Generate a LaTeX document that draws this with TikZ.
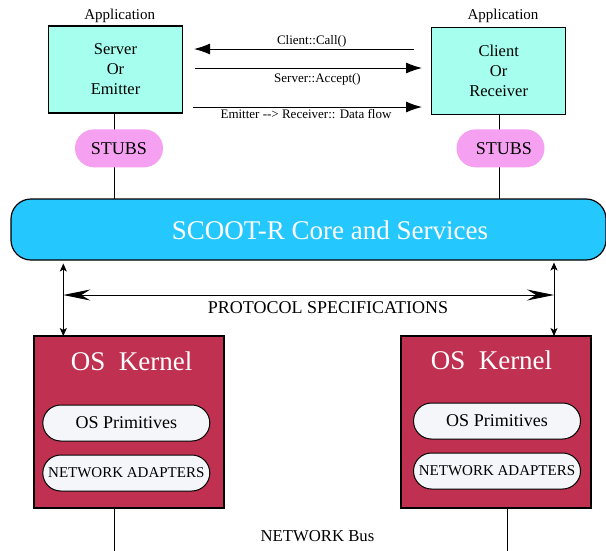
\documentclass[tikz,border=0pt]{standalone}
\usepackage{fontspec}
\setmainfont{Liberation Serif}
\usetikzlibrary{arrows.meta}
\definecolor{appc}{RGB}{166,255,238}
\definecolor{stubc}{RGB}{245,160,240}
\definecolor{corec}{RGB}{36,200,255}
\definecolor{kerc}{RGB}{192,48,80}
\definecolor{pillc}{RGB}{244,246,250}
\tikzset{
  appbox/.style={draw, line width=1.2pt, fill=appc, minimum width=134pt, minimum height=87pt, align=center, inner sep=0pt, font=\fontsize{16.5}{20}\selectfont},
  stubbox/.style={fill=stubc, rounded corners=19pt, minimum width=88pt, minimum height=38pt, inner sep=0pt, font=\fontsize{18}{20}\selectfont},
  corebox/.style={draw, line width=1.2pt, fill=corec, rounded corners=20pt, minimum width=595pt, minimum height=61pt},
  kerbox/.style={draw, line width=1.2pt, fill=kerc, minimum width=190pt, minimum height=172pt},
  pill/.style={draw, line width=1pt, fill=pillc, rounded corners=18pt, minimum width=167pt, minimum height=36pt, inner sep=0pt},
  lbl/.style={anchor=base, font=\fontsize{13}{15}\selectfont},
  bigarr/.style={line width=1pt, -{Latex[length=16pt,width=11pt]}},
  vdbl/.style={line width=0.9pt, {Stealth[length=8pt,width=7pt,inset=2pt]}-{Stealth[length=8pt,width=7pt,inset=2pt]}},
  hdbl/.style={line width=0.9pt, {Stealth[length=27pt,width=11pt,inset=9pt]}-{Stealth[length=27pt,width=11pt,inset=9pt]}},
  link/.style={line width=1pt},
}
\begin{document}
\begin{tikzpicture}[x=1pt,y=-1pt]
\useasboundingbox (0,0) rectangle (606,550);
% application labels
\node[anchor=base, font=\fontsize{15}{17}\selectfont] (appL) at (119.7,19) {Application};
\node[anchor=base, font=\fontsize{15}{17}\selectfont] (appR) at (503,19) {Application};
% links behind
\coordinate (sL1) at (114,113);
\coordinate (sL2) at (114,199);
\coordinate (sR1) at (499,114);
\coordinate (sR2) at (499,199);
\draw[link] (sL1) -- (sL2);
\draw[link] (sR1) -- (sR2);
% app boxes
\node[appbox] (srv) at (115.5,69.5) {Server\\Or\\Emitter};
\node[appbox] (cli) at (498.7,71) {Client\\Or\\Receiver};
% stubs
\node[stubbox] (stL) at (119,148.3) {STUBS};
\node[stubbox] (stR) at (500.5,148.3) {\hspace*{6.6pt}STUBS};
% message arrows
\coordinate (a1s) at (414,49);
\coordinate (a1e) at (194,49);
\coordinate (a2s) at (195,68);
\coordinate (a2e) at (422,68);
\coordinate (a3s) at (193,107);
\coordinate (a3e) at (422,107);
\draw[bigarr] (a1s) -- (a1e);
\draw[bigarr] (a2s) -- (a2e);
\draw[bigarr] (a3s) -- (a3e);
\node[lbl] (l1) at (311.7,44.3) {Client::Call()};
\node[lbl] (l2) at (317.5,82) {Server::Accept()};
\node[lbl] (l3) at (306,118.7) {Emitter -{}-> Receiver:: Data flow};
% core
\node[corebox] (core) at (308.5,229.5) {};
\node[anchor=base, text=white, font=\fontsize{27}{30}\selectfont] (coreT) at (330,239) {SCOOT-R Core and Services};
% kernel links
\coordinate (kL) at (114,508);
\coordinate (kLb) at (114,552);
\coordinate (kR) at (507.5,508);
\coordinate (kRb) at (507.5,552);
\draw[link] (kL) -- (kLb);
\draw[link] (kR) -- (kRb);
% kernels
\node[kerbox] (kerL) at (129,422) {};
\node[kerbox] (kerR) at (496,422) {};
\node[anchor=base, text=white, font=\fontsize{27}{30}\selectfont] (tL) at (131.7,370) {OS\ \ Kernel};
\node[anchor=base, text=white, font=\fontsize{27}{30}\selectfont] (tR) at (491.5,369) {OS\ \ Kernel};
\node[pill, font=\fontsize{18}{20}\selectfont] (pL) at (126.3,423) {OS Primitives};
\node[pill, font=\fontsize{18}{20}\selectfont] (pR) at (497,421) {OS Primitives};
\node[pill, font=\fontsize{15}{17}\selectfont] (nL) at (126.3,473) {NETWORK ADAPTERS};
\node[pill, font=\fontsize{15}{17}\selectfont] (nR) at (497,471) {NETWORK ADAPTERS};
% protocol arrows
\coordinate (vL1) at (63.3,263.5);
\coordinate (vL2) at (63.3,336);
\coordinate (vR1) at (554,262.5);
\coordinate (vR2) at (554,336);
\draw[vdbl] (vL1) -- (vL2);
\draw[vdbl] (vR1) -- (vR2);
\coordinate (hA) at (63.3,295);
\coordinate (hB) at (554,295);
\draw[hdbl] (hA) -- (hB);
\node[anchor=base, font=\fontsize{18}{20}\selectfont] (proto) at (328,313) {PROTOCOL SPECIFICATIONS};
\node[anchor=base, font=\fontsize{16.7}{19}\selectfont] (bus) at (317.5,541.7) {NETWORK Bus};
\end{tikzpicture}
\end{document}
